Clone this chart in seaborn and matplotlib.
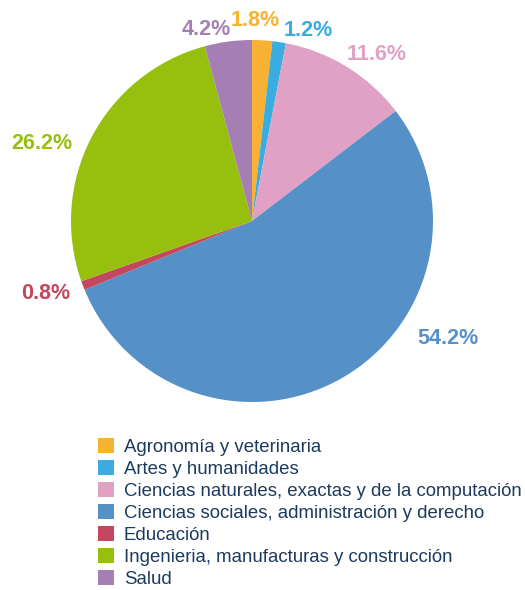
import matplotlib
matplotlib.use("Agg")
import matplotlib.pyplot as plt
import matplotlib.patches as mpatches
import seaborn as sns

sns.set_theme(style="white")
plt.rcParams['font.family'] = ['Liberation Sans', 'DejaVu Sans']

# data
areas = ['Agronomía y veterinaria', 'Artes y humanidades',
         'Ciencias naturales, exactas y de la computación',
         'Ciencias sociales, administración y derecho', 'Educación',
         'Ingenieria, manufacturas y construcción', 'Salud']
shares = [1.8, 1.2, 11.6, 54.2, 0.8, 26.2, 4.2]
colors = ['#F8B133', '#3AACDF', '#E1A1C5', '#5591C7', '#C4475F', '#97BF0D', '#A57EB4']

# where each percentage label sits (in units of the pie radius)
label_pos = [(0.02, 1.11), (0.31, 1.05), (0.69, 0.92), (1.08, -0.65),
             (-1.14, -0.40), (-1.16, 0.43), (-0.25, 1.06)]

fig = plt.figure(figsize=(5.25, 5.9), dpi=100)
ax = fig.add_axes([71 / 525, (590 - 402) / 590, 362 / 525, 362 / 590])
ax.pie(shares, colors=colors, startangle=90, counterclock=False,
       wedgeprops=dict(linewidth=0))
ax.set_xlim(-1, 1)
ax.set_ylim(-1, 1)
ax.axis('off')

for v, c, (x, y) in zip(shares, colors, label_pos):
    ax.text(x, y, f'{v:.1f}%', color=c, fontsize=15.5, fontweight='bold',
            ha='center', va='center', clip_on=False)

handles = [mpatches.Patch(facecolor=c, edgecolor='none', label=a)
           for a, c in zip(areas, colors)]
leg = fig.legend(handles=handles, loc='upper left',
                 bbox_to_anchor=(92 / 525, 1 - 432 / 590),
                 frameon=False, fontsize=13.4, handlelength=0.86, handleheight=0.86,
                 handletextpad=0.55, labelspacing=0.22, borderaxespad=0,
                 borderpad=0.3)
for t in leg.get_texts():
    t.set_color('#1C3A5E')

fig.savefig('out.png', dpi=100)
